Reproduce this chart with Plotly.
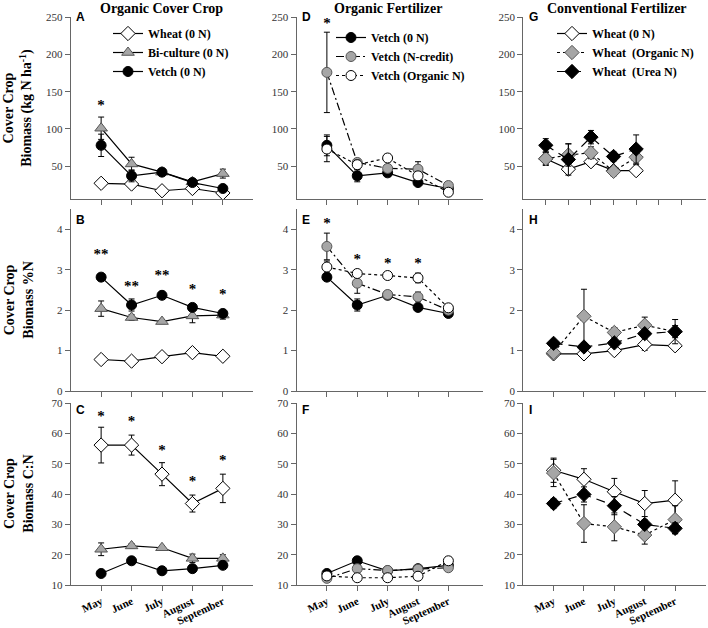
import plotly.graph_objects as go

months = ["May", "June", "July", "August", "September"]
xpos = [1, 2, 3, 4, 5]

# Panel A: biomass N (kg N/ha)
wheat_A = [27, 26, 17, 20, 14]
wheat_A_err = [2, 3, 2, 2, 2]
bi_A = [101, 53, 42, 29, 40]
bi_A_err = [15, 9, 4, 4, 6]
vetch_A = [78, 37, 42, 28, 20]
vetch_A_err = [15, 8, 4, 4, 3]
sig_A = ["*", "", "", "", ""]
sig_A_y = [130, 0, 0, 0, 0]

# Panel D
vetch0_D = [78, 37, 41, 28, 20]
vetch0_D_err = [14, 8, 4, 3, 3]
ncredit_D = [176, 55, 47, 46, 24]
ncredit_D_err = [54, 5, 5, 10, 3]
orgN_D = [73, 52, 61, 37, 15]
orgN_D_err = [17, 6, 5, 4, 3]
sig_D = ["*", "", "", "", ""]
sig_D_y = [241, 0, 0, 0, 0]

# Panel G
wheat0_G = [60, 46, 56, 44, 44]
wheat0_G_err = [9, 4, 6, 4, 4]
orgN_G = [60, 65, 68, 43, 62]
orgN_G_err = [8, 15, 8, 6, 10]
urea_G = [78, 59, 89, 63, 73]
urea_G_err = [9, 21, 9, 6, 19]

# Panel B: %N
wheat_B = [0.78, 0.74, 0.85, 0.95, 0.86]
wheat_B_err = [0.07, 0.05, 0.05, 0.10, 0.05]
bi_B = [2.04, 1.82, 1.72, 1.86, 1.88]
bi_B_err = [0.19, 0.07, 0.05, 0.17, 0.10]
vetch_B = [2.82, 2.13, 2.37, 2.07, 1.92]
vetch_B_err = [0.08, 0.15, 0.04, 0.05, 0.08]
sig_B = ["**", "**", "**", "*", "*"]
sig_B_y = [3.36, 2.58, 2.85, 2.49, 2.36]

# Panel E
vetch0_E = [2.82, 2.13, 2.37, 2.07, 1.92]
vetch0_E_err = [0.08, 0.15, 0.04, 0.05, 0.06]
ncredit_E = [3.58, 2.67, 2.39, 2.33, 2.00]
ncredit_E_err = [0.33, 0.25, 0.04, 0.12, 0.05]
orgN_E = [3.07, 2.91, 2.86, 2.80, 2.06]
orgN_E_err = [0.15, 0.05, 0.04, 0.12, 0.05]
sig_E = ["*", "*", "*", "*", ""]
sig_E_y = [4.12, 3.24, 3.15, 3.14, 0]

# Panel H
wheat0_H = [0.92, 0.92, 1.00, 1.15, 1.12]
wheat0_H_err = [0.05, 0.05, 0.05, 0.14, 0.09]
orgN_H = [0.95, 1.85, 1.45, 1.63, 1.47]
orgN_H_err = [0.10, 0.67, 0.12, 0.20, 0.30]
urea_H = [1.18, 1.09, 1.19, 1.42, 1.47]
urea_H_err = [0.05, 0.10, 0.10, 0.10, 0.15]

# Panel C: C:N
wheat_C = [56.2, 56.2, 46.6, 36.9, 41.9]
wheat_C_err = [5.9, 3.3, 3.8, 2.8, 4.7]
bi_C = [21.8, 22.9, 22.3, 18.8, 18.8]
bi_C_err = [2.1, 0.7, 0.5, 1.4, 1.2]
vetch_C = [13.8, 18.0, 14.7, 15.4, 16.5]
vetch_C_err = [0.5, 0.6, 0.5, 0.8, 1.0]
sig_C = ["*", "*", "*", "*", "*"]
sig_C_y = [65.5, 63.9, 54.0, 43.8, 50.7]

# Panel F
vetch0_F = [13.8, 18.0, 14.7, 15.4, 16.5]
vetch0_F_err = [0.5, 0.6, 0.5, 0.8, 1.0]
ncredit_F = [12.2, 15.4, 14.8, 15.2, 15.7]
ncredit_F_err = [0.8, 0.8, 0.5, 0.5, 0.8]
orgN_F = [13.0, 12.4, 12.4, 12.9, 18.0]
orgN_F_err = [0.5, 0.4, 0.4, 0.5, 1.2]

# Panel I
wheat0_I = [47.9, 44.9, 40.8, 36.9, 38.0]
wheat0_I_err = [4.0, 3.5, 4.4, 4.3, 6.4]
orgN_I = [47.0, 30.3, 29.2, 26.5, 31.6]
orgN_I_err = [4.5, 6.2, 4.6, 3.0, 4.6]
urea_I = [36.9, 39.9, 36.2, 30.0, 28.7]
urea_I_err = [1.5, 2.5, 3.0, 1.5, 1.8]

W, H = 708, 628
SERIF = "Liberation Serif, Times New Roman, serif"
SANS = "Liberation Sans, Arial, sans-serif"
AX = "#666666"
GRAY = "#a6a6a6"

fig = go.Figure()

STYLES = {
    "wheat": dict(symbol="diamond", fill="white", size=11, dash="solid"),
    "bi": dict(symbol="triangle-up", fill=GRAY, size=11, dash="solid"),
    "vetch": dict(symbol="circle", fill="black", size=10, dash="solid"),
    "ncredit": dict(symbol="circle", fill=GRAY, size=10, dash="8px,3px,2px,3px"),
    "orgNc": dict(symbol="circle", fill="white", size=10, dash="dot"),
    "orgNd": dict(symbol="diamond", fill=GRAY, size=11, dash="dot"),
    "urea": dict(symbol="diamond", fill="black", size=11, dash="9px,6px"),
}

def ax(panel, letter):
    return letter + ("" if panel == 1 else str(panel))

def add(panel, y, err, kind, name=None, legend=None):
    st = STYLES[kind]
    mline = "#555555" if kind in ("bi", "ncredit", "orgNd") else "black"
    fig.add_trace(go.Scatter(
        x=xpos, y=y, mode="lines+markers", name=name or "",
        showlegend=name is not None, legend=legend,
        line=dict(color="black", width=1.2, dash=st["dash"]),
        marker=dict(symbol=st["symbol"], size=st["size"], color=st["fill"],
                    line=dict(color=mline, width=1)),
        error_y=dict(type="data", array=err, color="black", thickness=1, width=3),
        xaxis=ax(panel, "x"), yaxis=ax(panel, "y"),
    ))

def add_sig(panel, texts, ys):
    xs = [x for x, t in zip(xpos, texts) if t]
    yy = [y for y, t in zip(ys, texts) if t]
    tt = [t for t in texts if t]
    fig.add_trace(go.Scatter(
        x=xs, y=yy, mode="text", text=tt, showlegend=False,
        textposition="middle center",
        textfont=dict(family=SERIF, size=15, color="black", weight="bold"),
        xaxis=ax(panel, "x"), yaxis=ax(panel, "y"),
    ))

# Column 1
add(1, wheat_A, wheat_A_err, "wheat", "Wheat (0 N)", "legend")
add(1, bi_A, bi_A_err, "bi", "Bi-culture (0 N)", "legend")
add(1, vetch_A, vetch_A_err, "vetch", "Vetch (0 N)", "legend")
add_sig(1, sig_A, sig_A_y)
add(4, wheat_B, wheat_B_err, "wheat")
add(4, bi_B, bi_B_err, "bi")
add(4, vetch_B, vetch_B_err, "vetch")
add_sig(4, sig_B, sig_B_y)
add(7, wheat_C, wheat_C_err, "wheat")
add(7, bi_C, bi_C_err, "bi")
add(7, vetch_C, vetch_C_err, "vetch")
add_sig(7, sig_C, sig_C_y)

# Column 2
add(2, vetch0_D, vetch0_D_err, "vetch", "Vetch (0 N)", "legend2")
add(2, ncredit_D, ncredit_D_err, "ncredit", "Vetch (N-credit)", "legend2")
add(2, orgN_D, orgN_D_err, "orgNc", "Vetch (Organic N)", "legend2")
add_sig(2, sig_D, sig_D_y)
add(5, vetch0_E, vetch0_E_err, "vetch")
add(5, ncredit_E, ncredit_E_err, "ncredit")
add(5, orgN_E, orgN_E_err, "orgNc")
add_sig(5, sig_E, sig_E_y)
add(8, vetch0_F, vetch0_F_err, "vetch")
add(8, ncredit_F, ncredit_F_err, "ncredit")
add(8, orgN_F, orgN_F_err, "orgNc")

# Column 3
add(3, wheat0_G, wheat0_G_err, "wheat", "Wheat (0 N)", "legend3")
add(3, orgN_G, orgN_G_err, "orgNd", "Wheat  (Organic N)", "legend3")
add(3, urea_G, urea_G_err, "urea", "Wheat  (Urea N)", "legend3")
add(6, wheat0_H, wheat0_H_err, "wheat")
add(6, orgN_H, orgN_H_err, "orgNd")
add(6, urea_H, urea_H_err, "urea")
add(9, wheat0_I, wheat0_I_err, "wheat")
add(9, orgN_I, orgN_I_err, "orgNd")
add(9, urea_I, urea_I_err, "urea")

# layout geometry (pixels)
col_px = [(70.7, 253.3), (296.5, 482.7), (523.2, 705.5)]
row_px = [(17.3, 199.3), (209.3, 391.0), (403.3, 585.0)]
xranges = [[0, 6], [0, 6.13], [0, 6]]
yranges = [[5.5, 250], [0, 4.5], [10, 70]]
ytickvals = [[50, 100, 150, 200, 250], [0, 1, 2, 3, 4], [10, 20, 30, 40, 50, 60, 70]]

layout = dict(
    width=W, height=H,
    margin=dict(l=0, r=0, t=0, b=0, autoexpand=False),
    template="none",
    paper_bgcolor="white", plot_bgcolor="white", showlegend=True,
)
for r in range(3):
    for c in range(3):
        p = r * 3 + c + 1
        xr = list(xranges[c])
        tv = xpos
        if p == 3:
            xr = [0, 8.07]
            tv = [1, 2, 3, 4, 5, 6, 7]
        x0, x1 = col_px[c]
        y0, y1 = row_px[r]
        layout[ax(p, "xaxis")] = dict(
            domain=[x0 / W, x1 / W], range=xr, anchor=ax(p, "y"),
            showline=True, linecolor=AX, linewidth=1, showgrid=False, zeroline=False,
            ticks="outside", ticklen=5, tickcolor=AX, tickwidth=1,
            tickvals=tv, ticktext=(months if r == 2 else [""] * len(tv)),
            showticklabels=(r == 2), tickangle=-25,
            tickfont=dict(family=SERIF, size=11, color="black", weight="bold"),
        )
        layout[ax(p, "yaxis")] = dict(
            domain=[1 - y1 / H, 1 - y0 / H], range=yranges[r], anchor=ax(p, "x"),
            showline=True, linecolor=AX, linewidth=1, showgrid=False, zeroline=False,
            ticks="outside", ticklen=5, tickcolor=AX, tickwidth=1, tickvals=ytickvals[r],
            tickfont=dict(family=SERIF, size=11, color="#333333"),
        )

legfont = dict(family=SERIF, size=12, color="black", weight="bold")
layout["legend"] = dict(x=108 / W, y=1 - 19 / H, xanchor="left", yanchor="top",
                        bgcolor="rgba(0,0,0,0)", font=legfont, itemwidth=30)
layout["legend2"] = dict(x=331 / W, y=1 - 23 / H, xanchor="left", yanchor="top",
                         bgcolor="rgba(0,0,0,0)", font=legfont, itemwidth=30)
layout["legend3"] = dict(x=552 / W, y=1 - 19 / H, xanchor="left", yanchor="top",
                         bgcolor="rgba(0,0,0,0)", font=legfont, itemwidth=30)

ann = []
titles = [("Organic Cover Crop", 161), ("Organic Fertilizer", 388), ("Conventional Fertilizer", 617)]
for t, xc in titles:
    ann.append(dict(text=t, x=xc / W, y=1 - 8.5 / H, xref="paper", yref="paper",
                    showarrow=False, xanchor="center", yanchor="middle",
                    font=dict(family=SERIF, size=14, color="black", weight="bold")))
letters = ["A", "D", "G", "B", "E", "H", "C", "F", "I"]
letter_y = [16.5, 219.5, 410]
for i, L in enumerate(letters):
    r, c = divmod(i, 3)
    ann.append(dict(text=L, x=(col_px[c][0] + 3.5) / W, y=1 - letter_y[r] / H,
                    xref="paper", yref="paper", showarrow=False,
                    xanchor="left", yanchor="middle",
                    font=dict(family=SANS, size=12, color="black", weight="bold")))
ytitles = ["Cover Crop<br>Biomass (kg N ha<sup>-1</sup>)", "Cover Crop<br>Biomass %N",
           "Cover Crop<br>Biomass C:N"]
for r, t in enumerate(ytitles):
    yc = (row_px[r][0] + row_px[r][1]) / 2
    ann.append(dict(text=t, x=18.5 / W, y=1 - yc / H, xref="paper", yref="paper",
                    showarrow=False, textangle=-90, xanchor="center", yanchor="middle",
                    font=dict(family=SERIF, size=14, color="black", weight="bold")))
layout["annotations"] = ann

fig.update_layout(**layout)
fig.write_html("out.html", config={"displayModeBar": False},
               post_script="document.body.style.margin='0';document.body.style.overflow='hidden';")
